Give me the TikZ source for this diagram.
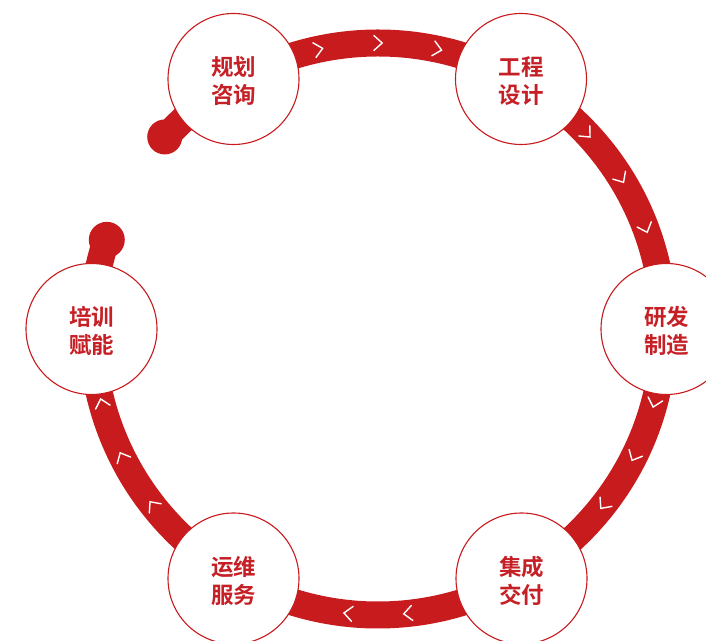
\documentclass[tikz,border=0pt]{standalone}
\usepackage{fontspec}
\newfontfamily\cjkb{Noto Sans CJK SC Bold}
\usetikzlibrary{calc}
\definecolor{mainred}{RGB}{200,27,30}
\definecolor{textred}{RGB}{198,32,38}
\tikzset{
  stage/.style={circle, draw=mainred, line width=1.1pt, fill=white,
    minimum size=131pt, inner sep=0pt},
  stagetext/.style={align=center, text=textred, inner sep=0pt,
    font=\cjkb\fontsize{22.5}{28}\selectfont, yshift=-2pt},
  ringband/.style={draw=mainred, line width=27pt},
  enddot/.style={fill=mainred},
  chevron/.pic={\draw[white, line width=1.4pt, line cap=round, line join=miter] (-4.2,7.5) -- (4.2,0) -- (-4.2,-7.5);}
}
\begin{document}
\begin{tikzpicture}[x=1pt,y=1pt]
\useasboundingbox (0,0) rectangle (706,640);
\coordinate (C) at (378,311);
% ring
\draw[ringband] ($(C)+(138:286)$) arc[start angle=138, end angle=-198.2, radius=286];
% end dots
\fill[enddot] ($(C)+(138:287)$) circle[radius=17.5];
\fill[enddot] ($(C)+(161.8:285.5)$) circle[radius=18];
% chevrons (pointing clockwise)
\foreach \a in {102,90,78, 43,31.7,20.6, -15,-26.5,-38, -72,-84,-96,-108, -142,-153.5,-165}{
  \path ($(C)+(\a:286)$) pic[rotate=\a-90] {chevron};
}
% stages
\node[stage, label={[stagetext]center:规划\\咨询}] (plan) at (233.5,561) {};
\node[stage, label={[stagetext]center:工程\\设计}] (eng) at (521,561) {};
\node[stage, label={[stagetext]center:研发\\制造}] (rd) at (666.5,311) {};
\node[stage, label={[stagetext]center:集成\\交付}] (deliv) at (521.5,61.5) {};
\node[stage, label={[stagetext]center:运维\\服务}] (ops) at (233.5,61.5) {};
\node[stage, label={[stagetext]center:培训\\赋能}] (train) at (91.5,311) {};
\end{tikzpicture}
\end{document}
